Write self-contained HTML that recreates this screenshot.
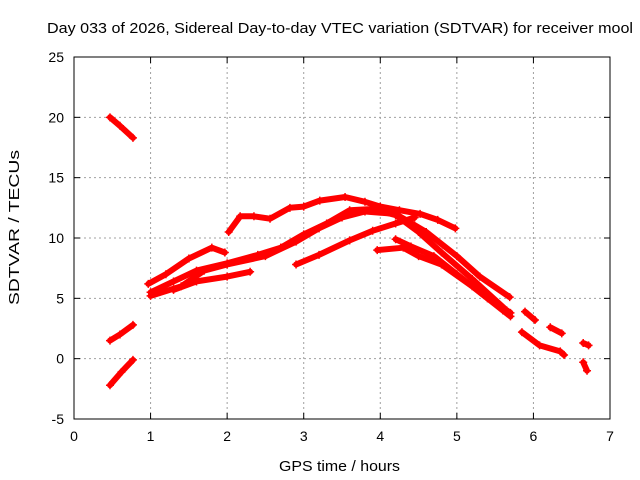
<!DOCTYPE html>
<html><head><meta charset="utf-8"><style>
html,body{margin:0;padding:0;background:#fff;}
svg{display:block;font-family:"Liberation Sans",Arial,sans-serif;}
</style></head><body>
<svg id="chart" width="640" height="480" xmlns="http://www.w3.org/2000/svg">
<rect width="640" height="480" fill="#fff"/>
<text x="47" y="33" font-size="15" textLength="586" lengthAdjust="spacingAndGlyphs" fill="#000">Day 033 of 2026, Sidereal Day-to-day VTEC variation (SDTVAR) for receiver mool</text>
<g id="grid"></g>
<g id="series"></g>
<rect x="74" y="57" width="536" height="362" fill="none" stroke="#000" stroke-width="1"/>
<g id="ticks"></g>
<text x="279" y="471" font-size="15" textLength="121" lengthAdjust="spacingAndGlyphs">GPS time / hours</text>
<text transform="translate(19,305) rotate(-90)" font-size="15" textLength="155" lengthAdjust="spacingAndGlyphs">SDTVAR / TECUs</text>
</svg>
<script>
const xTicks=[0,1,2,3,4,5,6,7];
const yTicks=[-5,0,5,10,15,20,25];
const t1=[[0.47,20.0],[0.6,19.3],[0.77,18.3]];
const t2=[[0.47,1.5],[0.6,2.0],[0.77,2.8]];
const t3=[[0.47,-2.2],[0.62,-1.1],[0.77,-0.1]];
const t4=[[2.02,10.5],[2.17,11.8],[2.35,11.8],[2.56,11.6],[2.82,12.5],[3.0,12.6],[3.21,13.1],[3.54,13.4],[3.8,13.0],[4.0,12.6],[4.25,12.3],[4.52,12.0],[4.75,11.5],[4.98,10.8]];
const t5=[[0.97,6.2],[1.2,7.0],[1.5,8.3],[1.8,9.2],[1.97,8.8]];
const t6=[[1.0,5.5],[1.3,6.4],[1.6,7.3],[2.0,7.9],[2.4,8.6],[2.7,9.2],[3.0,10.3],[3.3,11.2],[3.6,12.3],[3.9,12.4],[4.2,11.9],[4.5,10.5],[4.8,8.8],[5.2,6.6],[5.65,4.0]];
const t7=[[1.0,5.2],[1.4,6.0],[1.7,7.3],[2.0,7.8],[2.5,8.5],[2.9,9.7],[3.2,10.8],[3.5,11.7],[3.8,12.2],[4.2,12.0],[4.6,10.5],[5.0,8.5],[5.3,6.8],[5.69,5.1]];
const t8=[[1.3,5.7],[1.6,6.4],[2.0,6.8],[2.3,7.2]];
const t9=[[2.9,7.8],[3.2,8.6],[3.6,9.8],[3.9,10.6],[4.2,11.2],[4.45,11.7]];
const t10=[[3.96,9.0],[4.3,9.2],[4.5,8.5],[4.8,7.8],[5.2,6.0],[5.6,4.0],[5.7,3.5]];
const t11=[[4.2,9.9],[4.4,9.3],[4.7,8.5],[5.0,7.0],[5.4,5.0],[5.7,3.8]];
const t12=[[5.89,3.9],[6.02,3.2]];
const t13=[[6.22,2.6],[6.37,2.1]];
const t14=[[5.85,2.2],[6.08,1.1],[6.35,0.6],[6.4,0.3]];
const t15=[[6.65,1.3],[6.72,1.1]];
const t16=[[6.65,-0.3],[6.7,-1.0]];
const seriesList=[t1,t2,t3,t4,t5,t6,t7,t8,t9,t10,t11,t12,t13,t14,t15,t16];
const NS="http://www.w3.org/2000/svg";
const X0=74,X1=610,Y0=419,Y1=57;
function sx(v){return X0+(v-0)/(7-0)*(X1-X0);}
function sy(v){return Y0-(v-(-5))/(25-(-5))*(Y0-Y1);}
function mk(tag,attrs){const e=document.createElementNS(NS,tag);for(const k in attrs)e.setAttribute(k,attrs[k]);return e;}
const grid=document.getElementById('grid'),ticks=document.getElementById('ticks'),ser=document.getElementById('series');
xTicks.forEach(v=>{
  const x=sx(v);
  if(v>0&&v<7){const g=mk('line',{x1:x,y1:Y1,x2:x,y2:Y0,stroke:'#a0a0a0','stroke-dasharray':'2,3'});
  
  grid.appendChild(g);}
  const t=mk('line',{x1:x,y1:Y0,x2:x,y2:Y0-6,stroke:'#000'});
  
  ticks.appendChild(t);
  const t2e=mk('line',{x1:x,y1:Y1,x2:x,y2:Y1+6,stroke:'#000'});
  
  ticks.appendChild(t2e);
  const l=mk('text',{x:x,y:Y0+22,'font-size':14,'text-anchor':'middle'});l.textContent=v;
  
  ticks.appendChild(l);
});
yTicks.forEach(v=>{
  const y=sy(v);
  if(v>-5&&v<25){const g=mk('line',{x1:X0,y1:y,x2:X1,y2:y,stroke:'#a0a0a0','stroke-dasharray':'2,3'});
  
  grid.appendChild(g);}
  const t=mk('line',{x1:X0,y1:y,x2:X0+6,y2:y,stroke:'#000'});
  
  ticks.appendChild(t);
  const t2e=mk('line',{x1:X1,y1:y,x2:X1-6,y2:y,stroke:'#000'});
  
  ticks.appendChild(t2e);
  const l=mk('text',{x:X0-10,y:y+5,'font-size':14,'text-anchor':'end'});l.textContent=v;
  
  ticks.appendChild(l);
});
seriesList.forEach((s,i)=>{
  const pts=s.map(p=>sx(p[0]).toFixed(1)+','+sy(p[1]).toFixed(1)).join(' ');
  const pl=mk('polyline',{points:pts,fill:'none',stroke:'#f00','stroke-width':6,'stroke-linejoin':'round','stroke-linecap':'round'});
  
  
  ser.appendChild(pl);
  s.forEach(p=>{
    const x=sx(p[0]),y=sy(p[1]);
    const m=mk('path',{d:`M${x-4},${y}H${x+4}M${x},${y-4}V${y+4}`,stroke:'#f00','stroke-width':1.5});
    
    
    ser.appendChild(m);
  });
});
</script>
</body></html>
